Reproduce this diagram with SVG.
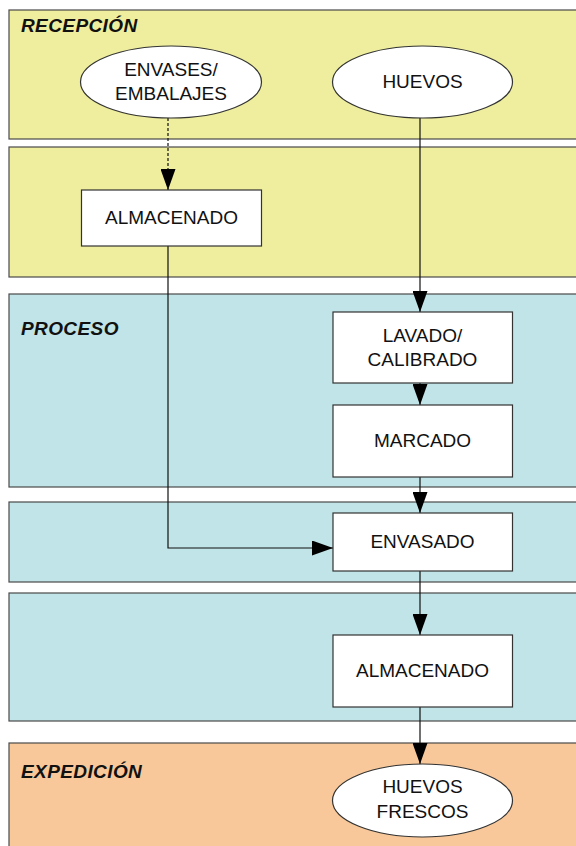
<svg xmlns="http://www.w3.org/2000/svg" width="576" height="846" viewBox="0 0 576 846">
<style>
.band{stroke:#4a4a4a;stroke-width:1.2}
.y{fill:#EEEE9E}
.b{fill:#C0E4E8}
.o{fill:#F8C89A}
.node{fill:#fff;stroke:#333;stroke-width:1.2}
.t{font-family:"Liberation Sans",Arial,sans-serif;font-size:19px;fill:#111;text-anchor:middle}
.lab{font-family:"Liberation Sans",Arial,sans-serif;font-size:19px;font-weight:bold;font-style:italic;fill:#111;letter-spacing:0.4px}
.c{fill:none;stroke:#111;stroke-width:1.2}
</style>
<defs>
<marker id="ah" markerUnits="userSpaceOnUse" markerWidth="21" markerHeight="15" viewBox="0 0 21 15" refX="21" refY="7.5" orient="auto">
<path d="M0,0 L21,7.5 L0,15 Z" fill="#000"/>
</marker>
</defs>
<rect width="576" height="846" fill="#fff"/>
<g id="bands">
<rect class="band y" x="9" y="10" width="580" height="129"/>
<rect class="band y" x="9" y="147" width="580" height="130"/>
<rect class="band b" x="9" y="294" width="580" height="193"/>
<rect class="band b" x="9" y="502" width="580" height="80"/>
<rect class="band b" x="9" y="593" width="580" height="128"/>
<rect class="band o" x="9" y="743" width="580" height="110"/>
<text class="lab" x="21" y="32">RECEPCIÓN</text>
<text class="lab" x="21" y="335">PROCESO</text>
<text class="lab" x="21" y="778">EXPEDICIÓN</text>
</g>
<g id="connectors">
<path class="c" d="M168,118 V190" stroke-dasharray="3,2" marker-end="url(#ah)"/>
<path class="c" d="M420,118 V312" marker-end="url(#ah)"/>
<path class="c" d="M420,383 V405" marker-end="url(#ah)"/>
<path class="c" d="M420,477 V513" marker-end="url(#ah)"/>
<path class="c" d="M420,571 V635" marker-end="url(#ah)"/>
<path class="c" d="M420,707 V764" marker-end="url(#ah)"/>
<path class="c" d="M168,246 V548 H333" marker-end="url(#ah)"/>
</g>
<g id="n-envases">
<ellipse class="node" cx="171" cy="82" rx="90.5" ry="36"/>
<text class="t" x="171" y="76">ENVASES/</text>
<text class="t" x="171" y="100">EMBALAJES</text>
</g>
<g id="n-huevos">
<ellipse class="node" cx="422.5" cy="82" rx="90" ry="36"/>
<text class="t" x="422.5" y="88">HUEVOS</text>
</g>
<g id="n-almacenado1">
<rect class="node" x="81.5" y="190" width="180" height="56"/>
<text class="t" x="171.5" y="224">ALMACENADO</text>
</g>
<g id="n-lavado">
<rect class="node" x="333" y="312" width="179.5" height="71"/>
<text class="t" x="422.5" y="342">LAVADO/</text>
<text class="t" x="422.5" y="366">CALIBRADO</text>
</g>
<g id="n-marcado">
<rect class="node" x="333" y="405" width="179.5" height="72"/>
<text class="t" x="422.5" y="447">MARCADO</text>
</g>
<g id="n-envasado">
<rect class="node" x="333" y="513" width="179.5" height="58"/>
<text class="t" x="422.5" y="548">ENVASADO</text>
</g>
<g id="n-almacenado2">
<rect class="node" x="333" y="635" width="179.5" height="72"/>
<text class="t" x="422.5" y="677">ALMACENADO</text>
</g>
<g id="n-frescos">
<ellipse class="node" cx="422.5" cy="800.5" rx="90" ry="36.5"/>
<text class="t" x="422.5" y="793">HUEVOS</text>
<text class="t" x="422.5" y="818">FRESCOS</text>
</g>
</svg>
